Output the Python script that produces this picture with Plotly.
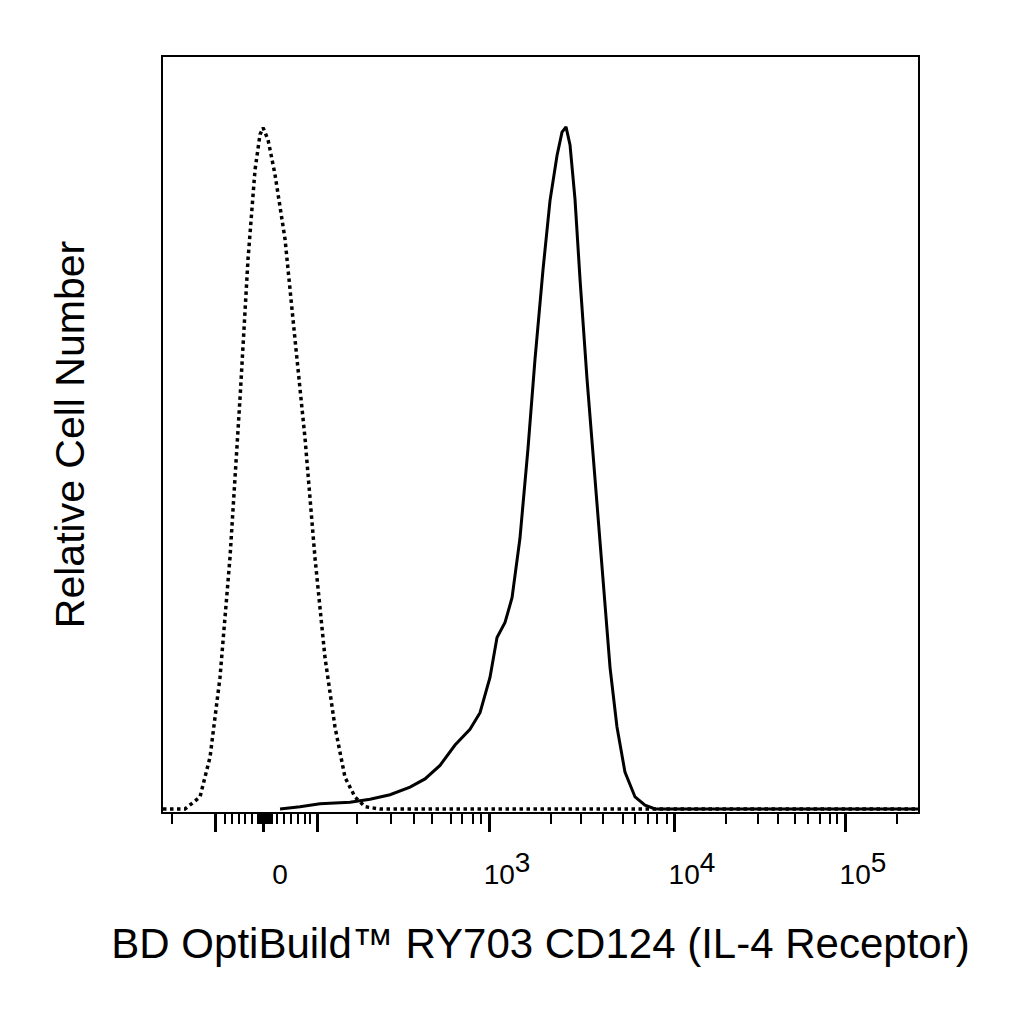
import plotly.graph_objects as go

# x in display channels (0-1000, biexponential scale), y in relative cell number (%)
ISO_X = [0, 29.1, 49.0, 62.3, 75.5, 88.7, 102.0, 112.6, 121.9, 128.5, 132.5, 139.1, 148.3,
         161.6, 174.8, 188.1, 201.3, 214.6, 227.8, 241.1, 254.3, 267.5, 287.4, 1000]
ISO_Y = [0, 0, 1.6, 6.9, 17.5, 33.4, 54.6, 73.1, 85.0, 89.7, 90.6, 89.0, 84.4,
         75.8, 62.5, 49.3, 33.4, 20.1, 10.9, 4.2, 1.6, 0.3, 0, 0]

CD124_X = [155.0, 181.5, 207.9, 247.7, 274.2, 300.7, 327.2, 347.0, 366.9, 386.8, 406.6, 419.9,
           433.1, 442.4, 453.0, 462.3, 472.8, 483.4, 492.7, 503.3, 512.6, 521.9, 528.5, 533.8,
           539.1, 545.7, 552.3, 561.6, 572.2, 582.8, 592.1, 601.3, 611.9, 625.2, 638.4, 651.7, 1000]
CD124_Y = [0, 0.3, 0.7, 0.9, 1.3, 1.9, 2.9, 4.0, 5.8, 8.5, 10.6, 12.8,
           17.5, 22.8, 24.8, 28.1, 36.0, 47.9, 59.8, 71.7, 80.9, 86.9, 90.0, 90.7,
           88.3, 81.1, 70.5, 57.2, 43.9, 30.7, 18.8, 10.9, 4.9, 1.6, 0.5, 0, 0]

MAJOR_TICKS = [68.9, 132.5, 204.0, 433.1, 678.1, 904.6]
SUP = '<sup><span style="font-size:28px">{}</span></sup>'
MAJOR_LABELS = ["", "0", "", "10" + SUP.format(3), "10" + SUP.format(4), "10" + SUP.format(5)]
MINOR_TICKS = [11.9, 82.1, 91.4, 100.7, 108.6, 117.9,
               125.8, 128.5, 131.1, 133.8, 136.4, 139.1, 141.7, 144.4,
               151.0, 160.3, 169.5, 178.8, 188.1, 194.7,
               257.0, 302.0, 332.5, 356.3, 381.5, 396.0, 410.6, 421.2,
               513.9, 553.6, 582.8, 609.3, 625.2, 642.4, 654.3, 667.5,
               745.7, 788.1, 814.6, 837.1, 854.3, 870.2, 883.4, 892.7, 972.2]

fig = go.Figure()
fig.add_trace(go.Scatter(x=ISO_X, y=ISO_Y, mode="lines",
                         line={"color": "black", "width": 3.5, "dash": "dot"}))
fig.add_trace(go.Scatter(x=CD124_X, y=CD124_Y, mode="lines",
                         line={"color": "black", "width": 3}))

font = "Liberation Sans, Arial, sans-serif"
fig.update_layout(
    width=1024, height=1024,
    margin={"l": 155, "r": 114, "t": 49, "b": 220},
    paper_bgcolor="white", plot_bgcolor="white",
    showlegend=False,
    font={"family": font, "color": "black"},
    xaxis={
        "range": [0, 1000], "showgrid": False, "zeroline": False,
        "showline": True, "linecolor": "black", "linewidth": 2, "mirror": True,
        "tickmode": "array", "tickvals": MAJOR_TICKS, "ticktext": MAJOR_LABELS,
        "ticks": "outside", "ticklen": 18, "tickwidth": 3, "tickcolor": "black",
        "tickfont": {"size": 28}, "ticklabelshift": 17, "ticklabelstandoff": 18,
        "minor": {"tickmode": "array", "tickvals": MINOR_TICKS, "ticks": "outside",
                  "ticklen": 10, "tickwidth": 2, "tickcolor": "black", "showgrid": False},
        "title": {"text": "BD OptiBuild™ RY703 CD124 (IL-4 Receptor)",
                  "font": {"size": 42}, "standoff": 40},
    },
    yaxis={
        "range": [-0.4, 100], "showgrid": False, "zeroline": False,
        "showline": True, "linecolor": "black", "linewidth": 2, "mirror": True,
        "showticklabels": False, "ticks": "",
        "title": {"text": "Relative Cell Number", "font": {"size": 41}, "standoff": 64},
    },
)

fig.write_html("out.html")
